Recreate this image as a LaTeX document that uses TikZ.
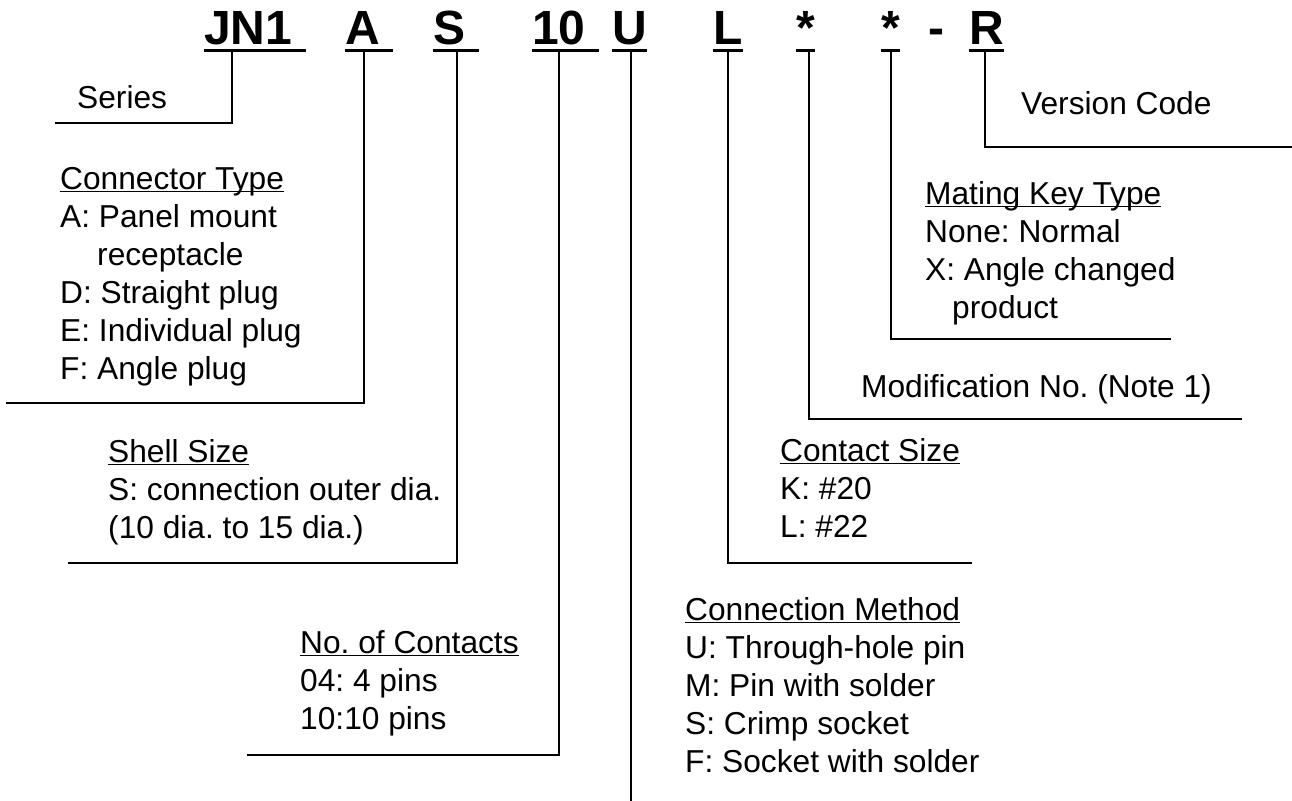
\documentclass[tikz,border=0pt]{standalone}
\usepackage{fontspec}
\setmainfont{Liberation Sans}
\frenchspacing
\newlength\ulw
\newcommand\bul[1]{\settowidth\ulw{#1}\rlap{\rule[-3.2pt]{\ulw}{1.7pt}}#1}
\newcommand\tul[1]{\settowidth\ulw{#1}\rlap{\rule[-7pt]{\ulw}{2.8pt}}#1}
\tikzset{
  txt/.style={inner sep=0pt, anchor=base west, align=left, font=\fontsize{31.7}{38}\selectfont},
  ttl/.style={inner sep=0pt, anchor=base west, font=\fontsize{48}{56}\selectfont\bfseries},
  ln/.style={line width=1.6pt, line cap=rect}
}
\begin{document}
\begin{tikzpicture}[x=1pt,y=-1pt]
\useasboundingbox (0,0) rectangle (1292,800);
% title
\node[ttl] (tJN) at (204,45) {\tul{JN1\ }};
\node[ttl] (tA) at (345,45) {\tul{A\ }};
\node[ttl] (tS) at (433,45) {\tul{S\ }};
\node[ttl] (t10) at (532,45) {\tul{10\ }};
\node[ttl] (tU) at (612,45) {\tul{U}};
\node[ttl] (tL) at (713,45) {\tul{L}};
\node[ttl] (tM) at (796,45) {\tul{*}};
\node[ttl] (tK) at (881,45) {\tul{*}};
\node[ttl] (tD) at (928,45) {-};
\node[ttl] (tR) at (969,45) {\tul{R}};
% texts (base anchor = baseline of last line)
\node[txt] (series) at (77,108) {Series};
\node[txt] (ctype) at (60,379) {\bul{Connector Type}\\A: Panel mount\\\hspace*{37pt}receptacle\\D: Straight plug\\E: Individual plug\\F: Angle plug};
\node[txt] (shell) at (108,538) {\bul{Shell Size}\\S: connection outer dia.\\(10 dia. to 15 dia.)};
\node[txt] (ncont) at (300,729) {\bul{No. of Contacts}\\04: 4 pins\\10:10 pins};
\node[txt] (cmeth) at (685,772) {\bul{Connection Method}\\U: Through-hole pin\\M: Pin with solder\\S: Crimp socket\\F: Socket with solder};
\node[txt] (csize) at (780,537) {\bul{Contact Size}\\K: \#20\\L: \#22};
\node[txt] (modno) at (861,397) {Modification No. (Note 1)};
\node[txt] (mkey) at (925,318) {\bul{Mating Key Type}\\None: Normal\\X: Angle changed\\\hspace*{27pt}product};
\node[txt] (ver) at (1021,114) {Version Code};
% connectors
\coordinate (a1) at (232,52); \coordinate (b1) at (56,123);
\coordinate (a2) at (364,52); \coordinate (b2) at (7,403);
\coordinate (a3) at (457,52); \coordinate (b3) at (69,563);
\coordinate (a4) at (559,52); \coordinate (b4) at (248,755);
\coordinate (a5) at (631,52); \coordinate (b5) at (631,800);
\coordinate (a6) at (728,52); \coordinate (b6) at (971,563);
\coordinate (a7) at (809,52); \coordinate (b7) at (1241,419);
\coordinate (a8) at (891,52); \coordinate (b8) at (1170,339);
\coordinate (a9) at (985,52); \coordinate (b9) at (1292,147);
\draw[ln] (a1) |- (b1);
\draw[ln] (a2) |- (b2);
\draw[ln] (a3) |- (b3);
\draw[ln] (a4) |- (b4);
\draw[ln] (a5) -- (b5);
\draw[ln] (a6) |- (b6);
\draw[ln] (a7) |- (b7);
\draw[ln] (a8) |- (b8);
\draw[ln] (a9) |- (b9);
\end{tikzpicture}
\end{document}
